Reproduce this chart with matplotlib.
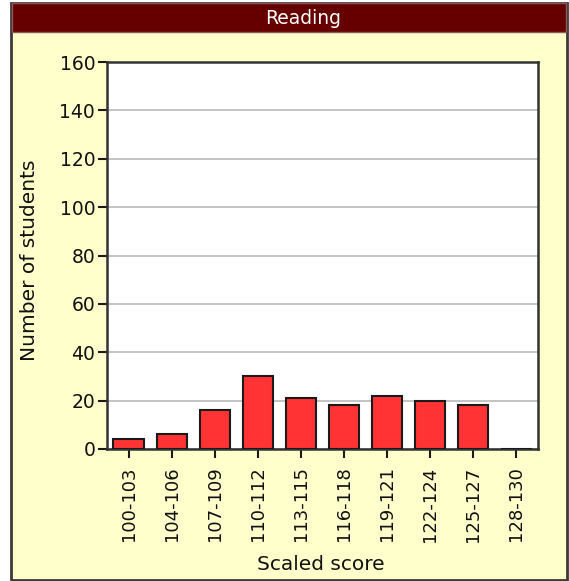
import matplotlib
matplotlib.use("Agg")
import matplotlib.pyplot as plt
from matplotlib.patches import Rectangle

categories = ["100-103", "104-106", "107-109", "110-112", "113-115",
              "116-118", "119-121", "122-124", "125-127", "128-130"]
counts = [4, 6, 16, 30, 21, 18, 22, 20, 18, 0]
yticks = [0, 20, 40, 60, 80, 100, 120, 140, 160]

plt.rcParams['font.family'] = ['DejaVu Sans']

W, H = 569, 581
fig = plt.figure(figsize=(W / 100, H / 100), dpi=100)
fig.patch.set_facecolor("white")

def fx(px):
    return px / W

def fy(py):
    return 1 - py / H

# outer yellow panel with border
fig.patches.append(Rectangle((fx(11), fy(580)), fx(567) - fx(11), fy(3) - fy(580), transform=fig.transFigure,
                             facecolor="#FFFFCC", edgecolor="#3a3a3a", linewidth=2.0, zorder=-2))
# title bar
fig.patches.append(Rectangle((fx(12), fy(32)), fx(566) - fx(12), fy(3) - fy(32), transform=fig.transFigure,
                             facecolor="#660000", edgecolor="#8a5a5a", linewidth=1.0, zorder=-1))
fig.text(fx(303), fy(18), "Reading", color="white", fontsize=13.5,
         ha="center", va="center")

ax = fig.add_axes([fx(107), fy(449), fx(538) - fx(107), fy(62) - fy(449)])
ax.set_zorder(3)
ax.set_facecolor("white")
x = list(range(len(categories)))
ax.bar(x, counts, width=0.7, color="#FF3333", edgecolor="#1a1a1a", linewidth=1.5, zorder=3)
ax.set_xlim(-0.5, len(categories) - 0.5)
ax.set_ylim(0, 160)
ax.set_yticks(yticks)
ax.set_yticklabels([str(v) for v in yticks], fontsize=13.5)
ax.set_xticks(x)
ax.set_xticklabels(categories, rotation=90, fontsize=13)
ax.yaxis.grid(True, color="#c4c4c4", linewidth=1.4, zorder=0)
ax.set_axisbelow(True)
for s in ax.spines.values():
    s.set_color("#333333")
    s.set_linewidth(1.8)
ax.tick_params(axis="both", direction="out", length=6.5, width=1.5, color="#1a1a1a", labelcolor="#111111")
ax.tick_params(axis="y", pad=2)
ax.tick_params(axis="x", pad=6)

fig.text(fx(30), fy(260), "Number of students", rotation=90, fontsize=14.5,
         ha="center", va="center", color="#111111")
fig.text(fx(321), fy(564), "Scaled score", fontsize=14.5,
         ha="center", va="center", color="#111111")

fig.savefig("out.png", dpi=100, facecolor=fig.get_facecolor())
